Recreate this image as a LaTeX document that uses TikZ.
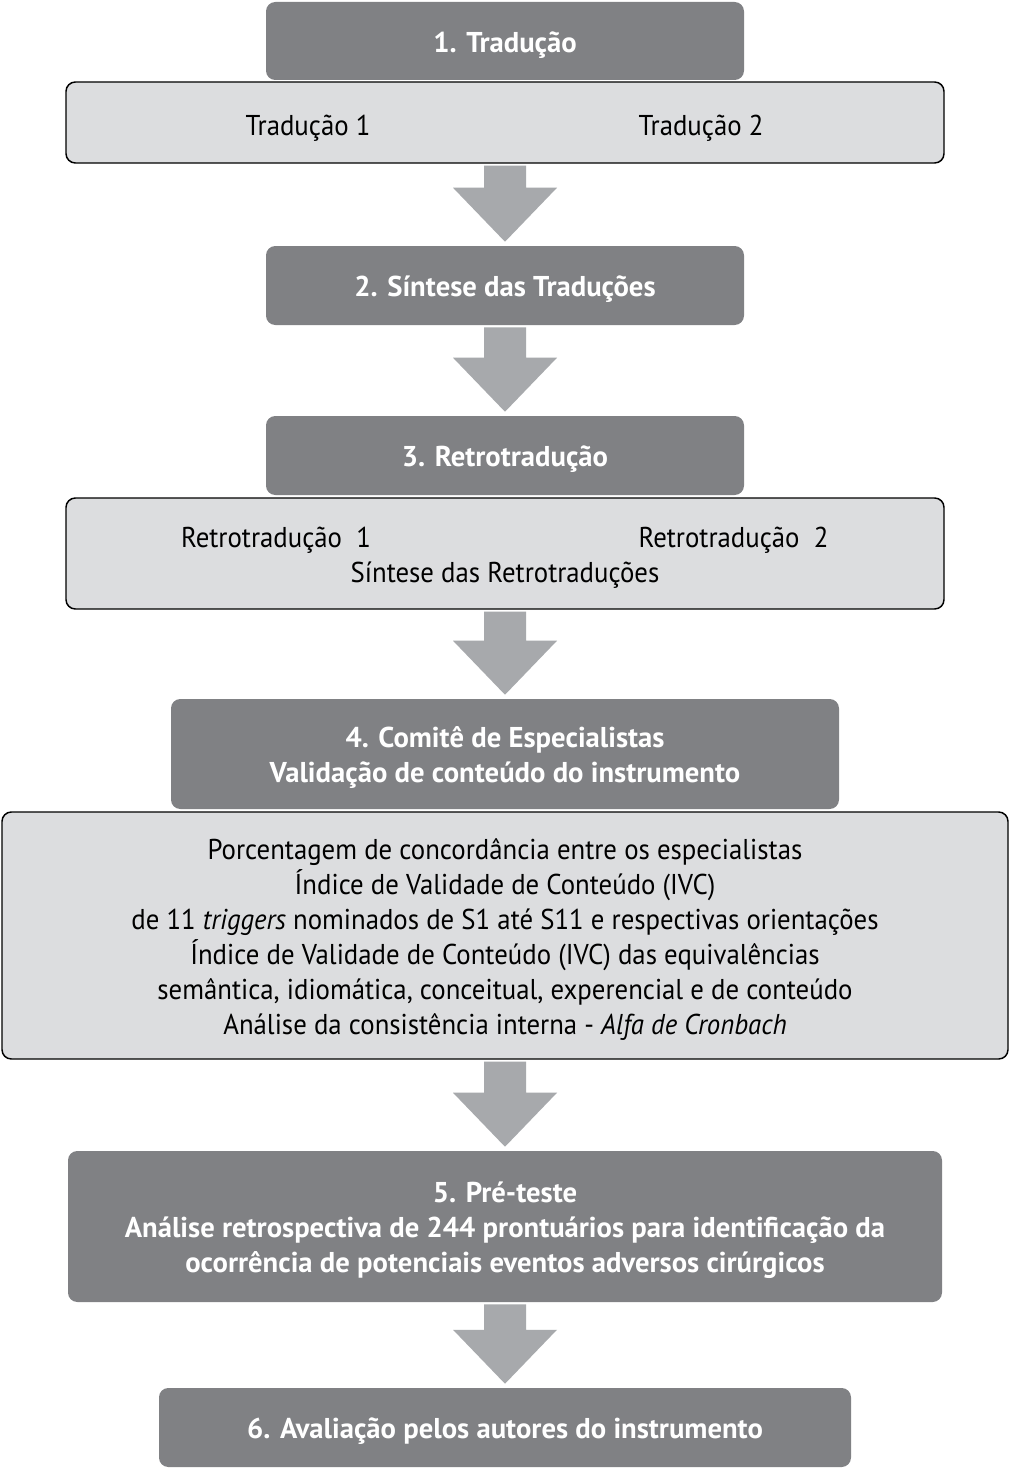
\documentclass[tikz,border=0pt]{standalone}
\usepackage{fontspec}
\setmainfont{PT Sans}[FakeStretch=0.935]
\newfontfamily\stagefont{PT Sans}
\usetikzlibrary{calc}

\definecolor{stepgray}{HTML}{808184}
\definecolor{panelgray}{HTML}{DCDDDF}
\definecolor{arrowgray}{HTML}{A7A9AC}

% text size used by every box
\newcommand{\boxfont}{\fontsize{21.5}{26.25}\selectfont}

% big grey arrow from the bottom of one box to the top of the next
\newcommand{\fatarrow}[2]{%
  \fill[arrowgray] ($(#1.south)+(-21,2)$) -- ($(#2.north)+(-21,-58)$)
    -- ($(#2.north)+(-52,-58)$) -- ($(#2.north)+(0,-4)$)
    -- ($(#2.north)+(52,-58)$) -- ($(#2.north)+(21,-58)$)
    -- ($(#1.south)+(21,2)$) -- cycle;}

\tikzset{
  stage/.style={fill=stepgray, rounded corners=7pt, text=white, align=center,
    inner sep=0pt, font=\boxfont\stagefont\bfseries, text height=20.55pt, text depth=4pt},
  panel/.style={fill=panelgray, draw=black, line width=1.1pt, rounded corners=7pt,
    align=center, inner sep=0pt, font=\boxfont},
  plaintext/.style={inner sep=0pt, font=\boxfont, text height=20.55pt, text depth=4pt}
}

\begin{document}
\begin{tikzpicture}[x=0.75pt, y=-0.75pt]
    % Page area in pixels (0,0) top left to (1010,1470)
    \useasboundingbox (0,0) rectangle (1010,1470);
    \fill[white] (0,0) rectangle (1010,1470);

    % Step 1
    \node[stage, minimum width=358.5pt, minimum height=58.5pt] (trad) at (505,41) {1. Tradução};
    \node[panel, minimum width=658.5pt, minimum height=60.75pt] (tradpanel) at (505,122.5) {};
    \node[plaintext] (t1) at (308,124) {Tradução 1};
    \node[plaintext] (t2) at (701,124) {Tradução 2};

    % Step 2
    \node[stage, minimum width=358.5pt, minimum height=59.25pt] (sintese) at (505,285.5) {2. Síntese das Traduções};

    % Step 3
    \node[stage, minimum width=358.5pt, minimum height=59.25pt] (retro) at (505,455.5) {3. Retrotradução};
    \node[panel, minimum width=658.5pt, minimum height=83.25pt] (retropanel) at (505,553.5) {};
    \node[plaintext] (r1) at (276,536) {Retrotradução\ \ 1};
    \node[plaintext] (r2) at (733.5,536) {Retrotradução\ \ 2};
    \node[plaintext] (rsint) at (505,571) {Síntese das Retrotraduções};

    % Step 4
    \node[stage, minimum width=501pt, minimum height=82.5pt, text height=46.8pt] (comite) at (505,754)
        {4. Comitê de Especialistas\\Validação de conteúdo do instrumento};
    \node[panel, minimum width=754.5pt, minimum height=185.25pt, text height=151.8pt, text depth=4pt]
        (comitepanel) at (505,935.5)
        {Porcentagem de concordância entre os especialistas\\
         Índice de Validade de Conteúdo (IVC)\\
         de 11 \textit{triggers} nominados de S1 até S11 e respectivas orientações\\
         Índice de Validade de Conteúdo (IVC) das equivalências\\
         semântica, idiomática, conceitual, experencial e de conteúdo\\
         Análise da consistência interna - \textit{Alfa de Cronbach}};

    % Step 5
    \node[stage, minimum width=655.5pt, minimum height=113.25pt, text height=73.05pt] (preteste) at (505,1226.5)
        {5. Pré-teste\\Análise retrospectiva de 244 prontuários para identificação da\\
         ocorrência de potenciais eventos adversos cirúrgicos};

    % Step 6
    \node[stage, minimum width=519pt, minimum height=59.25pt] (avaliacao) at (505,1427.5)
        {6. Avaliação pelos autores do instrumento};

    % Arrows between steps
    \fatarrow{tradpanel}{sintese}
    \fatarrow{sintese}{retro}
    \fatarrow{retropanel}{comite}
    \fatarrow{comitepanel}{preteste}
    \fatarrow{preteste}{avaliacao}
\end{tikzpicture}
\end{document}
